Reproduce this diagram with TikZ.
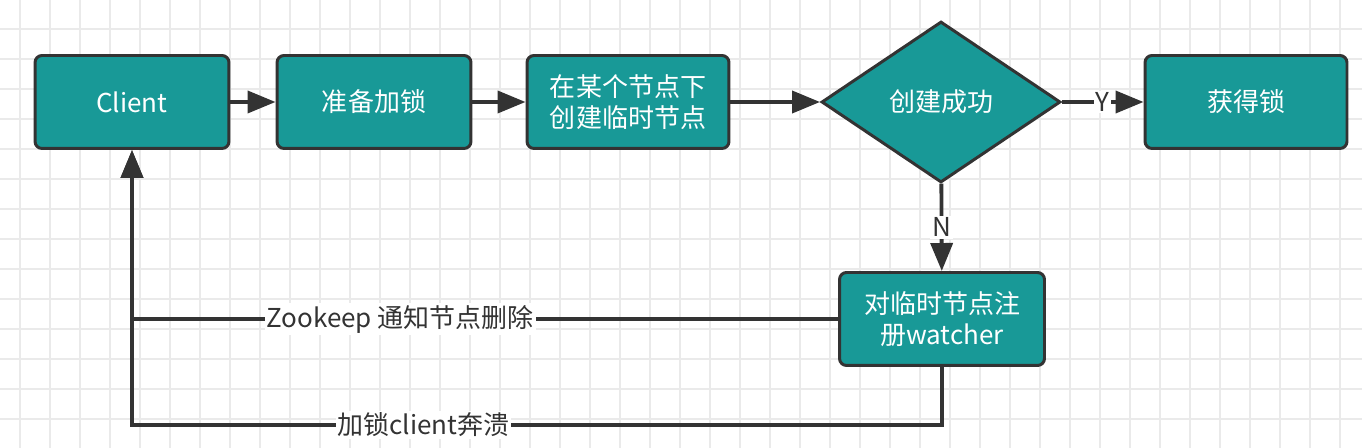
\documentclass[tikz,border=0pt]{standalone}
\usepackage{fontspec}
\setmainfont{Noto Sans CJK SC}
\usetikzlibrary{arrows.meta,shapes.geometric}
\definecolor{lockteal}{RGB}{24,153,151}
\definecolor{darkline}{RGB}{51,51,51}
\definecolor{gridgray}{RGB}{234,234,234}

\begin{document}
\begin{tikzpicture}[x=0.02cm,y=-0.02cm,
    font=\fontsize{14.8}{18}\selectfont,
    stepbox/.style={draw=darkline,line width=1.7pt,fill=lockteal,text=white,
        rounded corners=4pt,minimum height=1.86cm,align=center,inner sep=0pt},
    testbox/.style={diamond,draw=darkline,line width=1.7pt,fill=lockteal,text=white,
        minimum width=4.78cm,minimum height=3.22cm,inner sep=0pt},
    flow/.style={darkline,line width=2.2pt,-{Triangle[length=0.56cm,width=0.44cm]}},
    tag/.style={fill=white,text=darkline,inner sep=1pt}]
\useasboundingbox (0,0) rectangle (1362,448);
% grid
\foreach \x in {20,50,...,1360}
    \draw[gridgray,line width=0.8pt] (\x,0) -- (\x,448);
\foreach \y in {29,59,...,448}
    \draw[gridgray,line width=0.8pt] (0,\y) -- (1362,\y);
% top row
\node[stepbox,minimum width=3.88cm] (client) at (132,102) {Client};
\node[stepbox,minimum width=3.88cm] (prep) at (374,102) {准备加锁};
\node[stepbox,minimum width=4.04cm] (create) at (628,102) {在某个节点下\\创建临时节点};
\node[testbox] (ok) at (941,102) {创建成功};
\node[stepbox,minimum width=4.04cm] (get) at (1246,102) {获得锁};
% watcher
\node[stepbox,minimum width=4.1cm] (watch) at (942,319) {对临时节点注\\册watcher};
\coordinate (crash) at (132,425);
% connectors
\draw[flow] (client) -- (prep);
\draw[flow] (prep) -- (create);
\draw[flow] (create) -- (ok);
\draw[flow] (ok) -- node[tag]{Y} (get);
\draw[flow] (ok) -- node[tag]{N} (watch);
\draw[flow] (watch.west) -| node[tag,pos=0.31]{Zookeep 通知节点删除} (client.south);
\draw[flow] (watch.south) |- node[tag,pos=0.82]{加锁client奔溃} (crash) -- (client.south);
\end{tikzpicture}
\end{document}
